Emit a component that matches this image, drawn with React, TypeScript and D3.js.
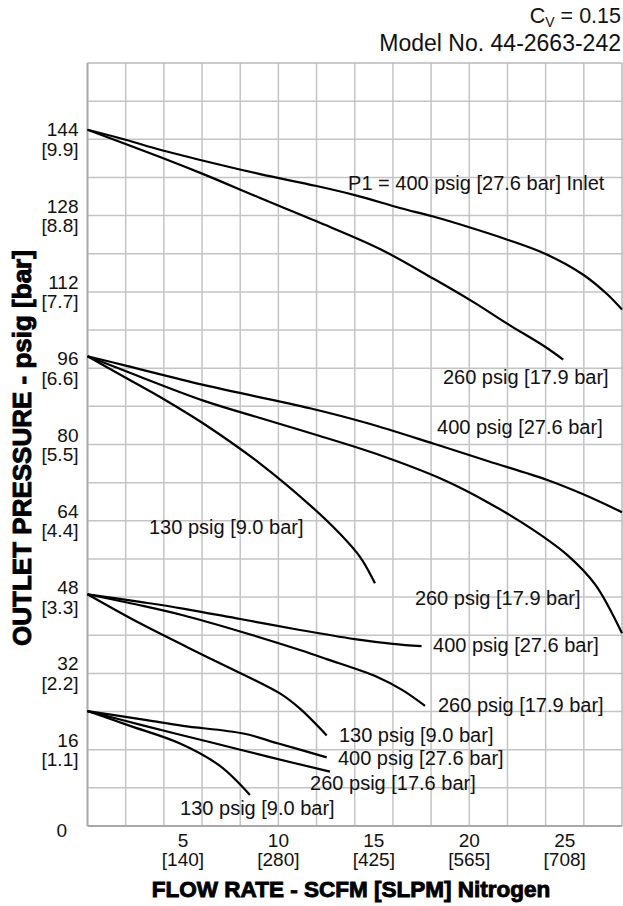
import React from "react";
import * as d3 from "d3";

// ---- data ----
const xTicks = [5, 10, 15, 20, 25];
const xTickSub = ["[140]", "[280]", "[425]", "[565]", "[708]"];
const yTicks = [16, 32, 48, 64, 80, 96, 112, 128, 144];
const yTickSub = ["[1.1]", "[2.2]", "[3.3]", "[4.4]", "[5.5]", "[6.6]", "[7.7]", "[8.8]", "[9.9]"];

// Outlet set ~146 psig
const top400: [number, number][] = [[0, 146], [2, 143.9], [3.8, 141.8], [6.07, 139.5], [9.04, 136.7], [12, 134.2], [14, 132.3], [16.37, 129.6], [18.11, 127.8], [20.04, 125.5], [21.96, 123], [23.97, 120.0], [25.97, 115.6], [27.2, 111.6], [28, 108.3]];
const top260: [number, number][] = [[0, 146], [3.8, 140.3], [6.07, 136.7], [9.04, 131.7], [12, 126.8], [15.32, 121.0], [18.11, 114.8], [20.2, 109.9], [21.96, 105.4], [23.97, 100.5], [24.92, 97.8]];
// Outlet set ~98 psig
const mid400: [number, number][] = [[0, 98.5], [2.05, 96.5], [6.07, 92.5], [11.65, 87.6], [14.63, 84.5], [18.11, 80.2], [21, 76.5], [24.05, 72.6], [26, 69.5], [28, 65.8]];
const mid260: [number, number][] = [[0, 98.5], [2.05, 95.3], [6.07, 89.2], [9, 85.6], [12, 82], [15, 78.2], [18.64, 72.6], [21, 67.8], [23.35, 62.1], [25.2, 56.6], [26.6, 50.6], [28, 40.4]];
const mid130: [number, number][] = [[0, 98.5], [2.05, 93.9], [4, 89.5], [6.07, 84.4], [9.04, 76.0], [11.65, 67.3], [13.22, 61.3], [14.3, 56.3], [15.06, 50.9]];
// Outlet set ~48 psig
const g3400: [number, number][] = [[0, 48.6], [2.75, 47.0], [5, 45.6], [8, 43.4], [11.13, 41.1], [14, 39.2], [16, 38.2], [17.5, 37.7]];
const g3260: [number, number][] = [[0, 48.6], [2.75, 46.3], [5, 44.2], [8, 40.8], [11.13, 36.9], [12.53, 35.0], [15.15, 31.3], [16.5, 28.5], [17.68, 25.2]];
const g3130: [number, number][] = [[0, 48.6], [2.75, 42.5], [6.59, 34.8], [10.08, 27.8], [11.13, 24.6], [12.53, 19.0]];
// Outlet set ~24 psig
const low400: [number, number][] = [[0, 24.1], [3.1, 22.2], [5, 21.0], [8.16, 19.4], [10, 17.3], [12.53, 14.4]];
const low260: [number, number][] = [[0, 24.1], [3, 21.0], [6.5, 17.5], [9.5, 14.5], [12.7, 11.4]];
const low130: [number, number][] = [[0, 24.1], [2.23, 21.0], [4.85, 17.3], [6.94, 12.6], [8.51, 6.5]];

const curves = [top400, top260, mid400, mid260, mid130, g3400, g3260, g3130, low400, low260, low130];

// label text and anchor (flow, psig)
const curveLabels: { text: string; x: number; y: number }[] = [
  { text: "P1 = 400 psig [27.6 bar] Inlet", x: 13.65, y: 133.4 },
  { text: "260 psig [17.9 bar]", x: 18.62, y: 92.6 },
  { text: "400 psig [27.6 bar]", x: 18.31, y: 82.1 },
  { text: "130 psig [9.0 bar]", x: 3.22, y: 61.3 },
  { text: "260 psig [17.9 bar]", x: 17.15, y: 46.4 },
  { text: "400 psig [27.6 bar]", x: 18.1, y: 36.4 },
  { text: "260 psig [17.9 bar]", x: 18.36, y: 24.0 },
  { text: "130 psig [9.0 bar]", x: 13.17, y: 17.7 },
  { text: "400 psig [27.6 bar]", x: 13.12, y: 12.8 },
  { text: "260 psig [17.6 bar]", x: 11.66, y: 7.55 },
  { text: "130 psig [9.0 bar]", x: 4.85, y: 2.4 },
];

const W = 623;
const H = 906;
const left = 87.5;
const right = 622;
const top = 63;
const bottom = 826;

const FONT = "'Liberation Sans', Arial, Helvetica, sans-serif";

export default function App() {
  const x = d3.scaleLinear().domain([0, 28]).range([left, right]);
  const y = d3.scaleLinear().domain([0, 160]).range([bottom, top]);
  const line = d3
    .line<[number, number]>()
    .x((d) => x(d[0]))
    .y((d) => y(d[1]))
    .curve(d3.curveCatmullRom.alpha(0.5));

  const vGrid = d3.range(2, 28, 2);
  const hGrid = d3.range(8, 160, 8);

  return (
    <svg
      width={W}
      height={H}
      style={{ position: "absolute", left: 0, top: 0, background: "#fff" }}
      fontFamily={FONT}
    >
      <rect x={0} y={0} width={W} height={H} fill="#fff" />
      {/* grid */}
      {vGrid.map((v) => (
        <line key={"v" + v} x1={x(v)} x2={x(v)} y1={top} y2={bottom} stroke="#c4c4c4" strokeWidth={1.5} />
      ))}
      {hGrid.map((v) => (
        <line key={"h" + v} x1={left} x2={right} y1={y(v)} y2={y(v)} stroke="#c4c4c4" strokeWidth={1.5} />
      ))}
      <line x1={left} x2={right} y1={top} y2={top} stroke="#b8b8b8" strokeWidth={1.5} />
      <line x1={right} x2={right} y1={top} y2={bottom} stroke="#b8b8b8" strokeWidth={1.5} />
      <line x1={left} x2={left} y1={top} y2={bottom} stroke="#a8a8a8" strokeWidth={2} />
      <line x1={left} x2={right} y1={bottom} y2={bottom} stroke="#a8a8a8" strokeWidth={2} />

      {/* curves */}
      {curves.map((c, i) => (
        <path key={"c" + i} d={line(c) || ""} fill="none" stroke="#000" strokeWidth={2.2} />
      ))}

      {/* curve labels */}
      {curveLabels.map((l, i) => (
        <text key={"l" + i} x={x(l.x)} y={y(l.y)} fontSize={20} fill="#111">
          {l.text}
        </text>
      ))}

      {/* y ticks */}
      {yTicks.map((v, i) => (
        <g key={"yt" + v}>
          <text x={78.5} y={y(v) - 3} textAnchor="end" fontSize={19} fill="#111">
            {v}
          </text>
          <text x={78.5} y={y(v) + 16.5} textAnchor="end" fontSize={19} fill="#111">
            {yTickSub[i]}
          </text>
        </g>
      ))}
      <text x={67} y={y(0) + 11} textAnchor="end" fontSize={19} fill="#111">
        0
      </text>

      {/* x ticks */}
      {xTicks.map((v, i) => (
        <g key={"xt" + v}>
          <text x={x(v)} y={847} textAnchor="middle" fontSize={19} fill="#111">
            {v}
          </text>
          <text x={x(v)} y={866} textAnchor="middle" fontSize={19} fill="#111">
            {xTickSub[i]}
          </text>
        </g>
      ))}

      {/* axis titles */}
      <text
        x={351}
        y={897}
        textAnchor="middle"
        fontSize={22.5}
        fontWeight="bold"
        stroke="#000"
        strokeWidth={0.9}
        fill="#000"
      >
        FLOW RATE - SCFM [SLPM] Nitrogen
      </text>
      <text
        transform={`translate(31,448) rotate(-90)`}
        textAnchor="middle"
        fontSize={26}
        fontWeight="bold"
        stroke="#000"
        strokeWidth={0.9}
        fill="#000"
      >
        OUTLET PRESSURE - psig [bar]
      </text>

      {/* header */}
      <text x={621} y={23} textAnchor="end" fontSize={21.5} fill="#111">
        C<tspan fontSize={14} dy={4}>V</tspan>
        <tspan dy={-4}> = 0.15</tspan>
      </text>
      <text x={621} y={51} textAnchor="end" fontSize={23} fill="#111">
        Model No. 44-2663-242
      </text>
    </svg>
  );
}
